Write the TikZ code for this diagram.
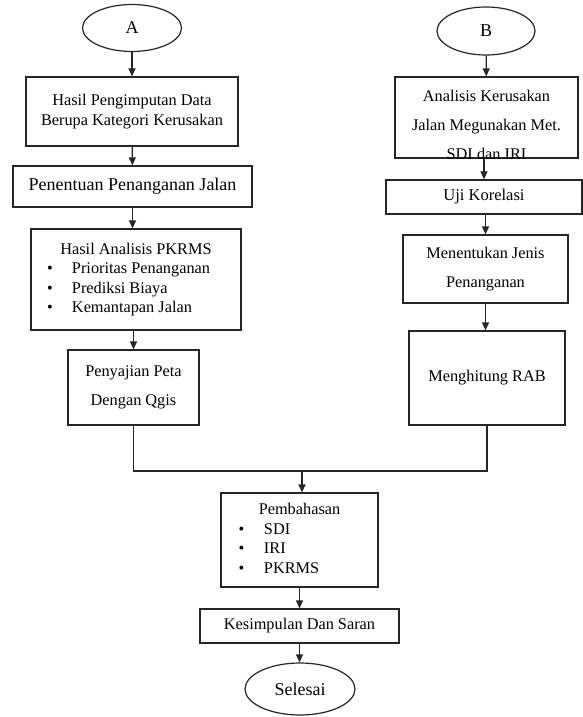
\documentclass[tikz,border=0pt]{standalone}
\usepackage{fontspec}
\setmainfont{Liberation Serif}
\usetikzlibrary{shapes.geometric,arrows.meta}

\newcommand{\txtsmall}{\fontsize{16.3}{19.5}\selectfont}
\newcommand{\txtwide}{\fontsize{16.3}{29}\selectfont}
\newcommand{\txtmid}{\fontsize{16.5}{20}\selectfont}
\newcommand{\txtbig}{\fontsize{18}{21}\selectfont}

\begin{document}
\begin{tikzpicture}[x=1pt,y=-1pt,
  procbox/.style={draw=black!85,line width=1.2pt,inner sep=0pt,align=center,font=\txtsmall},
  termnode/.style={ellipse,draw=black!85,line width=1.2pt,inner sep=0pt,font=\txtbig},
  flow/.style={line width=1.2pt,draw=black!85,-{Triangle[length=8pt,width=7pt]}}]
\useasboundingbox (0,0) rectangle (583,717);

% Column A
\node[termnode,minimum width=99pt,minimum height=47pt] (startA) at (132,28) {A};
\node[procbox,minimum width=212pt,minimum height=69pt] (data) at (132,111.5)
  {Hasil Pengimputan Data\\Berupa Kategori Kerusakan};
\node[procbox,minimum width=239pt,minimum height=41pt,font=\txtbig] (tentu) at (132.5,186.5)
  {Penentuan Penanganan Jalan};
\node[procbox,minimum width=210pt,minimum height=101pt] (pkrms) at (136,279.5)
  {\begin{tabular}{@{\hspace*{16pt}}p{25pt}@{}p{169pt}@{}}
   \multicolumn{2}{@{}c@{}}{Hasil Analisis PKRMS}\\
   \textbullet & Prioritas Penanganan\\
   \textbullet & Prediksi Biaya\\
   \textbullet & Kemantapan Jalan
   \end{tabular}};
\node[procbox,minimum width=131pt,minimum height=75pt,font=\txtwide] (peta) at (133.5,387.5)
  {Penyajian Peta\\Dengan Qgis};

% Column B
\node[termnode,minimum width=98pt,minimum height=48pt] (startB) at (486,31) {B};
\node[procbox,minimum width=183pt,minimum height=81pt] (sdi) at (486.5,117.5) {};
\begin{scope}
  \clip ([yshift=0.6pt]sdi.south west) rectangle (sdi.north east);
  \node[align=center,inner sep=0pt,font=\txtwide] (sditxt) at (486.5,125)
    {Analisis Kerusakan\\Jalan Megunakan Met.\\SDI dan IRI};
\end{scope}
\node[procbox,minimum width=196pt,minimum height=34pt,font=\txtmid] (uji) at (484,197) {Uji Korelasi};
\node[procbox,minimum width=165pt,minimum height=68pt,font=\txtwide] (jenis) at (485.5,269)
  {Menentukan Jenis\\Penanganan};
\node[procbox,minimum width=156pt,minimum height=94pt] (rab) at (487,378) {Menghitung RAB};

% Joined part
\coordinate (join) at (302,471);
\node[procbox,minimum width=157pt,minimum height=94pt] (bahas) at (299.5,540)
  {\begin{tabular}{@{\hspace*{17.5pt}}p{25.5pt}@{}p{114pt}@{}}
   \multicolumn{2}{@{}c@{}}{Pembahasan}\\
   \textbullet & SDI\\
   \textbullet & IRI\\
   \textbullet & PKRMS
   \end{tabular}};
\node[procbox,minimum width=199pt,minimum height=34pt] (simpul) at (299.5,626) {Kesimpulan Dan Saran};
\node[termnode,minimum width=110pt,minimum height=52pt] (selesai) at (300,689) {Selesai};

% Arrows A
\draw[flow] (startA) -- (data);
\draw[flow] (data) -- (tentu);
\draw[flow] (tentu.south) -- (tentu.south |- pkrms.north);
\draw[flow] (peta.north |- pkrms.south) -- (peta.north);

% Arrows B
\draw[flow] (startB) -- (sdi);
\draw[flow] (sdi.south -| uji.north) -- (uji.north);
\draw[flow] (uji.south -| jenis.north) -- (jenis.north);
\draw[flow] (jenis.south) -- (jenis.south |- rab.north);

% Merge lines
\draw[line width=1.2pt,draw=black!85] (peta.south) |- (join) -| (rab.south);
\draw[flow] (join) -- (join |- bahas.north);
\draw[flow] (bahas.south) -- (bahas.south |- simpul.north);
\draw[flow] (simpul.south) -- (simpul.south |- selesai.north);
\end{tikzpicture}
\end{document}
